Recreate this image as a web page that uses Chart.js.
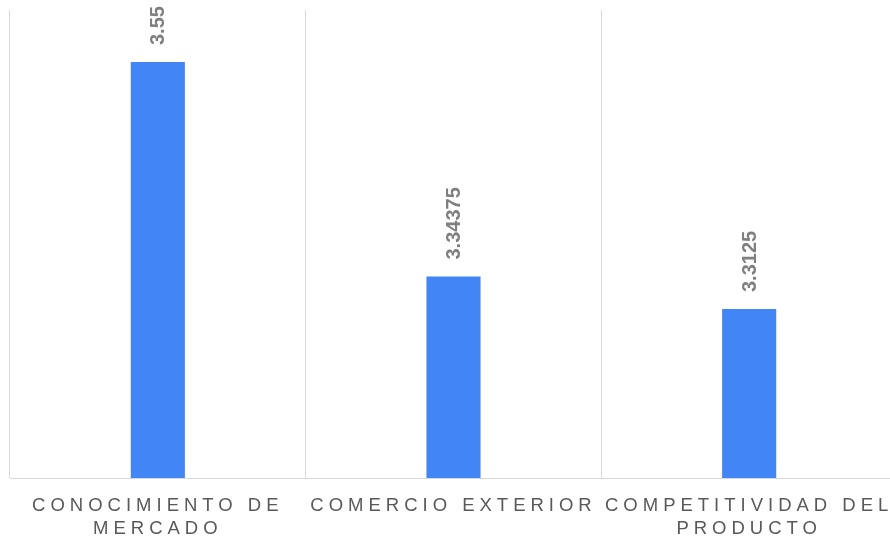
<!DOCTYPE html>
<html>
<head>
<meta charset="utf-8">
<script src="https://cdn.jsdelivr.net/npm/chart.js@4/dist/chart.umd.min.js"></script>
<style>
  html, body { margin: 0; padding: 0; background: #fff; overflow: hidden; }
  #wrap { width: 897px; height: 539px; }
</style>
</head>
<body>
<div id="wrap"><canvas id="chart" width="897" height="539"></canvas></div>
<script>
const categories = [
  ["CONOCIMIENTO DE", "MERCADO"],
  ["COMERCIO EXTERIOR"],
  ["COMPETITIVIDAD DEL", "PRODUCTO"],
];
const values = [3.55, 3.34375, 3.3125];
const yMin = 3.15;
const yMax = 3.6;

const FONT = "'Liberation Sans', Arial, sans-serif";

// letter-spaced category labels, normal spacing for value labels
const spacing = {
  id: "spacing",
  beforeDraw(chart) {
    chart.ctx.letterSpacing = "5px";
  },
  afterDraw(chart) {
    chart.ctx.letterSpacing = "0px";
  },
};

const valueLabels = {
  id: "valueLabels",
  afterDatasetsDraw(chart) {
    const ctx = chart.ctx;
    const meta = chart.getDatasetMeta(0);
    ctx.save();
    ctx.letterSpacing = "0px";
    ctx.font = "bold 20px " + FONT;
    ctx.fillStyle = "#7f7f7f";
    ctx.textAlign = "left";
    ctx.textBaseline = "middle";
    meta.data.forEach((bar, i) => {
      ctx.save();
      ctx.translate(bar.x, bar.y - 17);
      ctx.rotate(-Math.PI / 2);
      ctx.fillText(String(values[i]), 0, 1);
      ctx.restore();
    });
    ctx.restore();
  },
};

let ctx = document.getElementById("chart").getContext("2d");
const myChart = new Chart(ctx, {
  type: "bar",
  data: {
    labels: categories,
    datasets: [
      {
        data: values,
        backgroundColor: "#4285f4",
        categoryPercentage: 1,
        barPercentage: 0.183,
      },
    ],
  },
  options: {
    responsive: false,
    animation: false,
    layout: {
      padding: { left: 10, top: 10, right: 0, bottom: 0 },
    },
    plugins: {
      legend: { display: false },
      tooltip: { enabled: false },
    },
    scales: {
      x: {
        grid: {
          color: "#d9d9d9",
          drawTicks: false,
          offset: true,
        },
        border: { color: "#d9d9d9" },
        ticks: {
          color: "#595959",
          font: { family: FONT, size: 18.5, lineHeight: 1.26 },
          padding: 16,
          autoSkip: false,
          maxRotation: 0,
          minRotation: 0,
        },
        afterFit(scale) {
          scale.height = 61;
        },
      },
      y: {
        display: false,
        min: yMin,
        max: yMax,
      },
    },
  },
  plugins: [spacing, valueLabels],
});
</script>
</body>
</html>
